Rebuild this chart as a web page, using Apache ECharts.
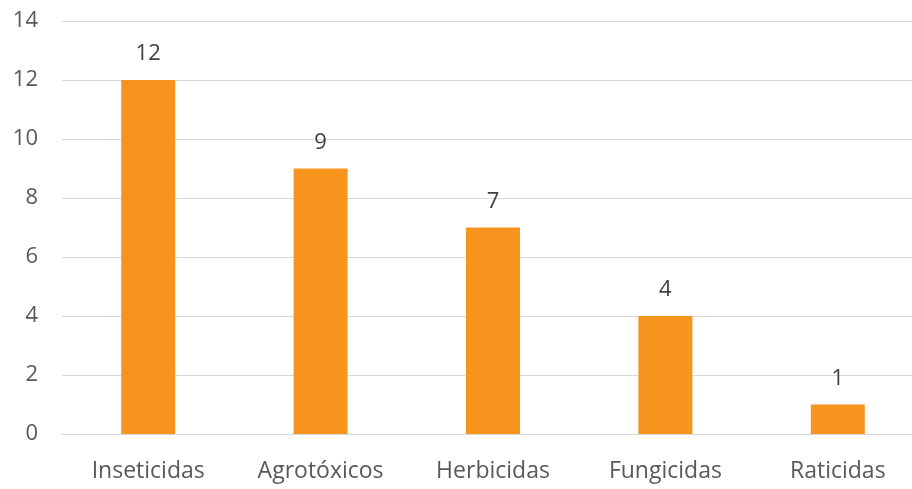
<!DOCTYPE html>
<html lang="pt">
<head>
<meta charset="UTF-8">
<title>Chart</title>
<script src="https://cdn.jsdelivr.net/npm/echarts@6/dist/echarts.min.js"></script>
<style>
  html, body { margin: 0; padding: 0; background: #fff; }
  #chart { width: 912px; height: 489px; }
</style>
</head>
<body>
<div id="chart"></div>
<script>
  // categorias e valores
  var categories = ['Inseticidas', 'Agrotóxicos', 'Herbicidas', 'Fungicidas', 'Raticidas'];
  var values = [12, 9, 7, 4, 1];
  var yTicks = { min: 0, max: 14, interval: 2 };

  var chart = echarts.init(document.getElementById('chart'));
  var font = 'Open Sans, Liberation Sans, sans-serif';

  chart.setOption({
    animation: false,
    // a área do gráfico passa um pouco da borda direita, como no original
    grid: { left: 62, width: 862, top: 21, bottom: 55, containLabel: false, outerBoundsMode: 'none' },
    xAxis: {
      type: 'category',
      data: categories,
      axisLine: { show: true, lineStyle: { color: '#d9d9d9', width: 1 } },
      axisTick: { show: false },
      axisLabel: { color: '#595959', fontSize: 23, fontFamily: font, margin: 26 }
    },
    yAxis: {
      type: 'value',
      min: yTicks.min,
      max: yTicks.max,
      interval: yTicks.interval,
      axisLine: { show: false },
      axisTick: { show: false },
      axisLabel: { color: '#595959', fontSize: 22, fontFamily: font, margin: 24 },
      splitLine: { lineStyle: { color: '#d9d9d9', width: 1 } }
    },
    series: [{
      type: 'bar',
      data: values,
      barWidth: 54,
      itemStyle: { color: '#F7941D' },
      label: {
        show: true,
        position: 'top',
        distance: 15,
        color: '#404040',
        fontSize: 22,
        fontFamily: font
      }
    }]
  });
</script>
</body>
</html>
